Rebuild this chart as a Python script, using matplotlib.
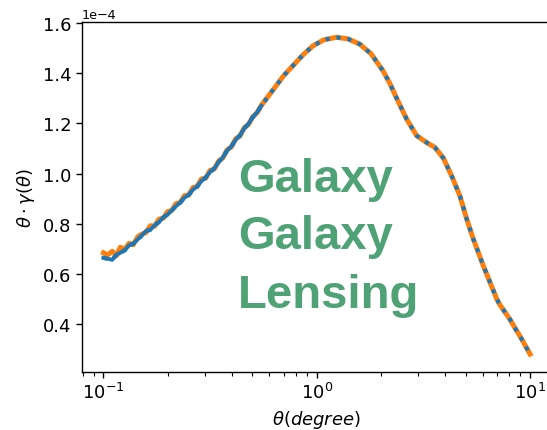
from matplotlib import pyplot as plt

# small-scale part: measured (noisy) vs model, theta in degrees, values in 1e-4
theta_low = [0.100, 0.105, 0.110, 0.115, 0.120, 0.126, 0.132, 0.138, 0.145, 0.151,
             0.158, 0.166, 0.174, 0.182, 0.191, 0.200, 0.209, 0.219, 0.229, 0.240,
             0.251, 0.263, 0.275, 0.288, 0.302, 0.316, 0.331, 0.347, 0.363, 0.380,
             0.398, 0.417, 0.437, 0.457, 0.479, 0.501, 0.525, 0.550]
blue_low = [0.664, 0.660, 0.656, 0.676, 0.684, 0.694, 0.714, 0.720, 0.738, 0.752,
            0.770, 0.776, 0.794, 0.806, 0.826, 0.836, 0.853, 0.870, 0.884, 0.904,
            0.915, 0.936, 0.948, 0.970, 0.984, 1.006, 1.020, 1.046, 1.064, 1.092,
            1.108, 1.135, 1.152, 1.180, 1.198, 1.224, 1.244, 1.270]
orange_low = [0.684, 0.676, 0.690, 0.672, 0.706, 0.698, 0.722, 0.716, 0.748, 0.758,
              0.764, 0.792, 0.790, 0.818, 0.822, 0.848, 0.852, 0.880, 0.884, 0.912,
              0.914, 0.944, 0.948, 0.978, 0.982, 1.012, 1.018, 1.050, 1.062, 1.094,
              1.106, 1.138, 1.150, 1.182, 1.196, 1.226, 1.242, 1.272]

# large-scale part: both curves agree
theta_high = [0.62, 0.70, 0.774, 0.86, 0.96, 1.08, 1.236, 1.40, 1.59, 1.80,
              2.05, 2.20, 2.37, 2.64, 2.94, 3.27, 3.58, 3.92, 4.29, 4.69,
              5.05, 5.42, 6.04, 6.98, 7.23, 8.06, 8.5, 9.0, 9.3, 10.0]
model_high = [1.330, 1.390, 1.430, 1.472, 1.509, 1.533, 1.543, 1.537, 1.516, 1.477,
              1.408, 1.360, 1.300, 1.217, 1.151, 1.124, 1.104, 1.062, 0.991, 0.911,
              0.818, 0.739, 0.632, 0.500, 0.476, 0.418, 0.384, 0.350, 0.328, 0.280]

scale = 1e-4
theta = theta_low + theta_high
blue = [v * scale for v in blue_low + model_high]
orange = [v * scale for v in orange_low + model_high]

fig = plt.figure(figsize=(5.47, 4.31), dpi=100)
ax = fig.add_axes([0.150, 0.1353, 0.858, 0.8107])

ax.plot(theta, orange, color="C1", linewidth=3.6, linestyle="-")
# noisy measured part reads as a solid band in the original
ax.plot(theta_low, [v * scale for v in blue_low], color="C0", linewidth=2.8,
        linestyle="-")
ax.plot(theta, blue, color="C0", linewidth=3.0, linestyle=":")

ax.set_xscale("log")
ax.set_xlim(10 ** -1.1, 10 ** 1.1)
ax.set_ylim(0.21e-4, 1.603e-4)
ax.ticklabel_format(style="sci", axis="y", scilimits=(0, 0))
ax.yaxis.get_offset_text().set_fontsize(9.2)

ax.tick_params(axis="both", which="major", labelsize=13, length=4.5, pad=3, width=1)
ax.tick_params(axis="both", which="minor", length=2.6, width=0.8)
for s in ax.spines.values():
    s.set_linewidth(1.0)

ax.set_xlabel(r"$\theta (degree)$", fontsize=13)
ax.set_ylabel(r"$\theta \cdot \gamma(\theta)$", fontsize=13)

green = "#4FA275"
for label, ypix in [("Galaxy", 192), ("Galaxy", 249), ("Lensing", 308)]:
    fig.text(238 / 547, 1 - ypix / 431, label, color=green, fontsize=34,
             fontweight="bold", family="Liberation Sans", va="baseline", ha="left")

plt.savefig("out.png", dpi=100)
